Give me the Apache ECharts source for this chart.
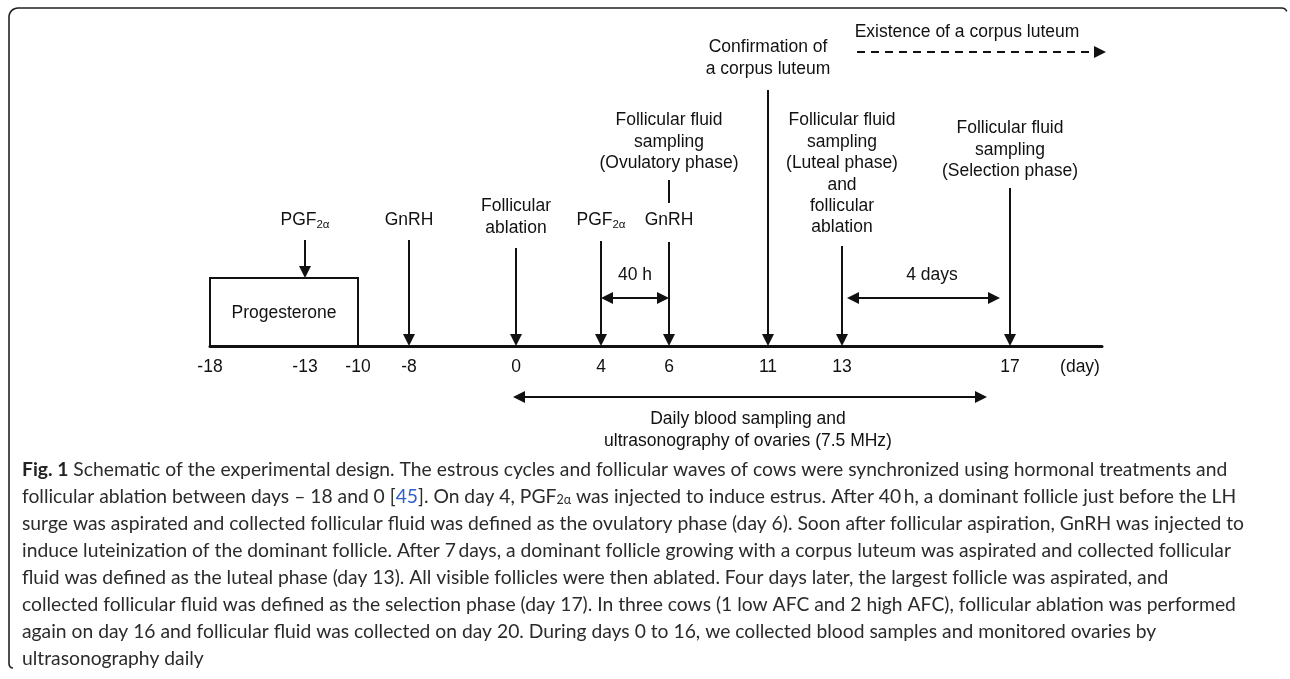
<!DOCTYPE html>
<html><head><meta charset="utf-8">
<script src="https://cdn.jsdelivr.net/npm/echarts@6/dist/echarts.min.js"></script>
<style>html,body{margin:0;padding:0;background:#fff}#c{width:1290px;height:679px}</style>
</head><body><div id="c"></div>
<script>
// ---------- DATA ----------
// labelled days on the time line and their schematic position along it
const dayLabels = ['-18', '-13', '-10', '-8', '0', '4', '6', '11', '13', '17'];
const dayPos    = [0, 95, 148, 199, 306, 391, 459, 558, 632, 800];
const axisUnitLabel = '(day)';

// treatments / events marked with a downward arrow
const eventDays  = ['-13', '-8', '0', '4', '6', '11', '13', '17'];
const eventTexts = [
  'PGF{s|2α}',
  'GnRH',
  'Follicular\nablation',
  'PGF{s|2α}',
  'GnRH',
  'Confirmation of\na corpus luteum',
  'Follicular fluid\nsampling\n(Luteal phase)\nand\nfollicular\nablation',
  'Follicular fluid\nsampling\n(Selection phase)'
];
const samplingAt6Text = 'Follicular fluid\nsampling\n(Ovulatory phase)';

// progesterone treatment period
const progesteronePeriod = ['-18', '-10'];
const progesteroneText = 'Progesterone';

// interval annotations
const intervalFrom  = ['4', '13'];
const intervalTo    = ['6', '17'];
const intervalTexts = ['40 h', '4 days'];

// daily sampling period (days 0 to 16)
const dailyFromDay = 0, dailyToDay = 16;
const dailyText = 'Daily blood sampling and\nultrasonography of ovaries (7.5 MHz)';

const clText = 'Existence of a corpus luteum';

const captionLines = [
  '{b|Fig. 1} Schematic of the experimental design. The estrous cycles and follicular waves of cows were synchronized using hormonal treatments and',
  'follicular ablation between days \u2013 18 and 0 [{l|45}]. On day 4, PGF{s|2α} was injected to induce estrus. After 40\u2009h, a dominant follicle just before the LH',
  'surge was aspirated and collected follicular fluid was defined as the ovulatory phase (day 6). Soon after follicular aspiration, GnRH was injected to',
  'induce luteinization of the dominant follicle. After 7\u2009days, a dominant follicle growing with a corpus luteum was aspirated and collected follicular',
  'fluid was defined as the luteal phase (day 13). All visible follicles were then ablated. Four days later, the largest follicle was aspirated, and',
  'collected follicular fluid was defined as the selection phase (day 17). In three cows (1 low AFC and 2 high AFC), follicular ablation was performed',
  'again on day 16 and follicular fluid was collected on day 20. During days 0 to 16, we collected blood samples and monitored ovaries by',
  'ultrasonography daily'
];

// ---------- LAYOUT (heights above the time line, in px-like units) ----------
const posOf = d => dayPos[dayLabels.indexOf(String(d))];
const pos16 = 773; // schematic position of day 16 (end of daily sampling)
const arrowTop   = { '-13': 106, '-8': 106, '0': 98, '4': 105, '6': 104, '11': 256, '13': 100, '17': 158 };
const labelLevel = { '-13': 126, '-8': 126, '0': 129, '4': 126, '6': 126, '11': 288, '13': 172, '17': 196 };
const boxH = 68;
const HEAD = 6;
const TXT = '#111';
const FONT = 'Liberation Sans, Arial, sans-serif';
const FS = 17.5;

const downArrows = eventDays.map(d => {
  const base = (d === '-13') ? boxH : 0;
  return { coords: [[posOf(d), arrowTop[d]], [posOf(d), base + HEAD]] };
});
const doubleArrows = [
  { coords: [[posOf('4') + HEAD, 48], [posOf('6') - HEAD, 48]] },
  { coords: [[posOf('13') + 5 + HEAD, 48], [posOf('17') - 10 - HEAD, 48]] },
  { coords: [[posOf(dailyFromDay) - 3 + HEAD, -51], [pos16 + 4 - HEAD, -51]] }
];

const textPoints = [];
eventDays.forEach((d, i) => textPoints.push({ value: [posOf(d), labelLevel[d]], name: eventTexts[i] }));
textPoints.push({ value: [posOf('6'), 204], name: samplingAt6Text });
textPoints.push({ value: [(posOf(progesteronePeriod[0]) + posOf(progesteronePeriod[1])) / 2, 33], name: progesteroneText });
intervalTexts.forEach((t, i) => textPoints.push({ value: [(posOf(intervalFrom[i]) + posOf(intervalTo[i])) / 2 + (i ? 6 : 0), 71], name: t }));
textPoints.push({ value: [538, -84], name: dailyText });
textPoints.push({ value: [757, 314], name: clText });

const tickVals = dayPos.concat([870]);
const tickText = {};
dayPos.forEach((p, i) => tickText[p] = dayLabels[i]);
tickText[870] = axisUnitLabel;

const lineStyle = { color: '#111', width: 2, opacity: 1, curveness: 0 };

// frame: left and top border with rounded corners
function arc(cx, cy, r, a0, a1, n) {
  const pts = [];
  for (let k = 0; k <= n; k++) {
    const a = a0 + (a1 - a0) * k / n;
    pts.push([cx + r * Math.cos(a), cy + r * Math.sin(a)]);
  }
  return pts;
}
const framePts = []
  .concat([[13, 668]])
  .concat(arc(13, 664, 4, Math.PI / 2, Math.PI, 4))
  .concat(arc(18, 17, 9, Math.PI, Math.PI * 1.5, 8))
  .concat(arc(1282, 13, 5, Math.PI * 1.5, Math.PI * 1.9, 5));

const chart = echarts.init(document.getElementById('c'), null, { renderer: 'canvas' });
const CF = 19.3;
const captionGraphics = captionLines.map((t, i) => ({
  type: 'text', left: 22, top: 460 + i * 27, silent: true,
  style: {
    text: t, fill: '#2b2b2b', font: CF + 'px Lato, sans-serif',
    rich: {
      b: { fontWeight: 'bold', fontSize: CF, fontFamily: 'Lato', fill: '#222' },
      l: { fill: '#2f5fd0', fontSize: CF, fontFamily: 'Lato' },
      s: { fontSize: 12.5, fontFamily: 'Lato', fill: '#2b2b2b', verticalAlign: 'bottom', lineHeight: 14 }
    }
  }
}));

chart.setOption({
  animation: false,
  backgroundColor: '#fff',
  grid: { left: 210, right: 188, top: 0, bottom: 333, containLabel: false },
  xAxis: {
    type: 'value', min: 0, max: 892,
    splitLine: { show: false }, axisTick: { show: false },
    axisLine: { onZero: false, lineStyle: { color: '#111', width: 3 } },
    axisLabel: {
      customValues: tickVals,
      formatter: v => tickText[v] !== undefined ? tickText[v] : '',
      margin: 12, fontSize: FS, fontFamily: FONT, color: TXT
    }
  },
  yAxis: { type: 'value', min: 0, max: 346, show: false },
  series: [
    { type: 'lines', coordinateSystem: 'cartesian2d', clip: false, symbol: ['none', 'triangle'], symbolSize: 12,
      lineStyle: lineStyle, data: downArrows, silent: true },
    { type: 'lines', coordinateSystem: 'cartesian2d', clip: false, symbol: ['triangle', 'triangle'], symbolSize: 12,
      lineStyle: lineStyle, data: doubleArrows, silent: true },
    { type: 'lines', coordinateSystem: 'cartesian2d', clip: false, polyline: true, symbol: 'none',
      lineStyle: lineStyle, silent: true,
      data: [{ coords: [[posOf(progesteronePeriod[0]), 0], [posOf(progesteronePeriod[0]), boxH], [posOf(progesteronePeriod[1]), boxH], [posOf(progesteronePeriod[1]), 0]] }] },
    { type: 'lines', coordinateSystem: 'cartesian2d', clip: false, symbol: 'none',
      lineStyle: lineStyle, silent: true,
      data: [{ coords: [[posOf('6'), 166], [posOf('6'), 143]] }] },
    { type: 'lines', coordinateSystem: 'cartesian2d', clip: false, symbol: ['none', 'triangle'], symbolSize: 12,
      lineStyle: { color: '#111', width: 2, type: [8, 6], opacity: 1, curveness: 0 }, silent: true,
      data: [{ coords: [[647, 294], [890, 294]] }] },
    { type: 'scatter', clip: false, symbolSize: 1, itemStyle: { color: 'rgba(0,0,0,0)', opacity: 1 }, silent: true,
      data: textPoints,
      label: { show: true, position: 'inside', formatter: p => p.name, color: TXT, opacity: 1,
        fontSize: FS, fontFamily: FONT, lineHeight: 21.4, align: 'center', verticalAlign: 'middle',
        rich: { s: { fontSize: 11.5, fontFamily: FONT, color: TXT, verticalAlign: 'bottom', lineHeight: 12 } } } }
  ],
  graphic: [
    { type: 'polyline', silent: true, shape: { points: framePts },
      style: { fill: null, stroke: '#222', lineWidth: 1.6 } }
  ].concat(captionGraphics)
});
</script></body></html>
